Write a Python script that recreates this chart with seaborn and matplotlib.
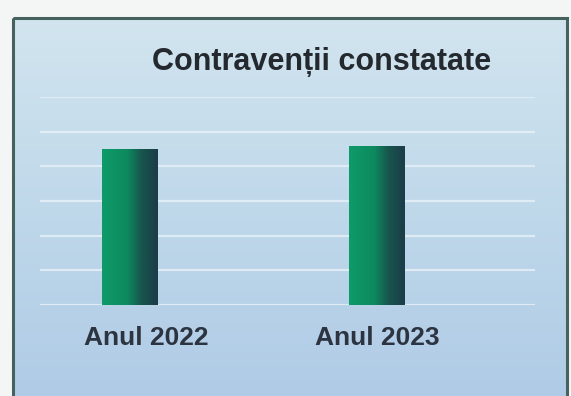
import numpy as np
import pandas as pd
import matplotlib
matplotlib.use("Agg")
import matplotlib.pyplot as plt
import matplotlib.transforms as mtransforms
import seaborn as sns
from matplotlib.colors import LinearSegmentedColormap
from matplotlib.patches import Rectangle

# data (no axis values printed in the original, heights read relative to the grid)
years = ["Anul 2022", "Anul 2023"]
counts = [4.5, 4.6]
grid_ticks = [0, 1, 2, 3, 4, 5, 6]

title = "Contraven\u021bii constatate"

sns.set_style("white")
plt.rcParams["font.family"] = ["Liberation Sans", "DejaVu Sans"]

fig = plt.figure(figsize=(5.71, 3.96), dpi=100)
fig.patch.set_facecolor("#f4f6f6")

# panel background with a soft blue gradient
bg = fig.add_axes([0, 0, 1, 1], zorder=0)
bg.set_xlim(0, 571)
bg.set_ylim(396, 0)
bg.axis("off")
bg_cmap = LinearSegmentedColormap.from_list("bg", ["#d2e5ef", "#bfd8ea", "#b0cbe6"])
grad = np.linspace(0, 1, 256).reshape(-1, 1)
bg.imshow(grad, cmap=bg_cmap, extent=[13, 567, 396, 18], aspect="auto")
bg.add_patch(Rectangle((13, 18), 554, 380, fill=False, edgecolor="#46625f", lw=2.2))

# main chart
ax = fig.add_axes([40 / 571, 1 - 305 / 396, 495 / 571, 208 / 396], zorder=1)
ax.patch.set_alpha(0)
df = pd.DataFrame({"year": years, "count": counts})
sns.barplot(data=df, x="year", y="count", ax=ax, width=0.226, color="#109a68",
            saturation=1, linewidth=0, zorder=3)

ax.set_xlim(-0.362, 1.638)
ax.set_ylim(0, 6)
ax.set_yticks(grid_ticks)
ax.yaxis.grid(True, color="#e6f0f7", lw=1.6, alpha=0.85)
ax.set_axisbelow(True)
ax.set_yticklabels([])
ax.tick_params(axis="y", length=0)
ax.tick_params(axis="x", length=0, pad=15, labelsize=19, labelcolor="#2b3440")
for lbl in ax.get_xticklabels():
    lbl.set_fontweight("bold")
ax.set_xlabel("")
ax.set_ylabel("")
for s in ax.spines.values():
    s.set_visible(False)

# first label sits a bit right of its bar in the original
first = ax.get_xticklabels()[0]
first.set_transform(first.get_transform()
                    + mtransforms.ScaledTranslation(0.17, 0, fig.dpi_scale_trans))

# horizontal green -> dark gradient on each bar
bar_cmap = LinearSegmentedColormap.from_list(
    "bar", [(0, "#0f9b69"), (0.45, "#0d8a5f"), (0.7, "#17564e"), (1, "#1c3c48")])
hgrad = np.linspace(0, 1, 256).reshape(1, -1)
for p in ax.patches:
    x0, y0 = p.get_x(), p.get_y()
    w, h = p.get_width(), p.get_height()
    im = ax.imshow(hgrad, cmap=bar_cmap, extent=[x0, x0 + w, y0, y0 + h],
                   aspect="auto", zorder=4)
    im.set_clip_path(p)
ax.set_xlim(-0.362, 1.638)
ax.set_ylim(0, 6)

fig.text(322 / 571, 1 - 62 / 396, title, ha="center", va="center",
         fontsize=22, fontweight="bold", color="#24282f")

fig.savefig("out.png", dpi=100)
